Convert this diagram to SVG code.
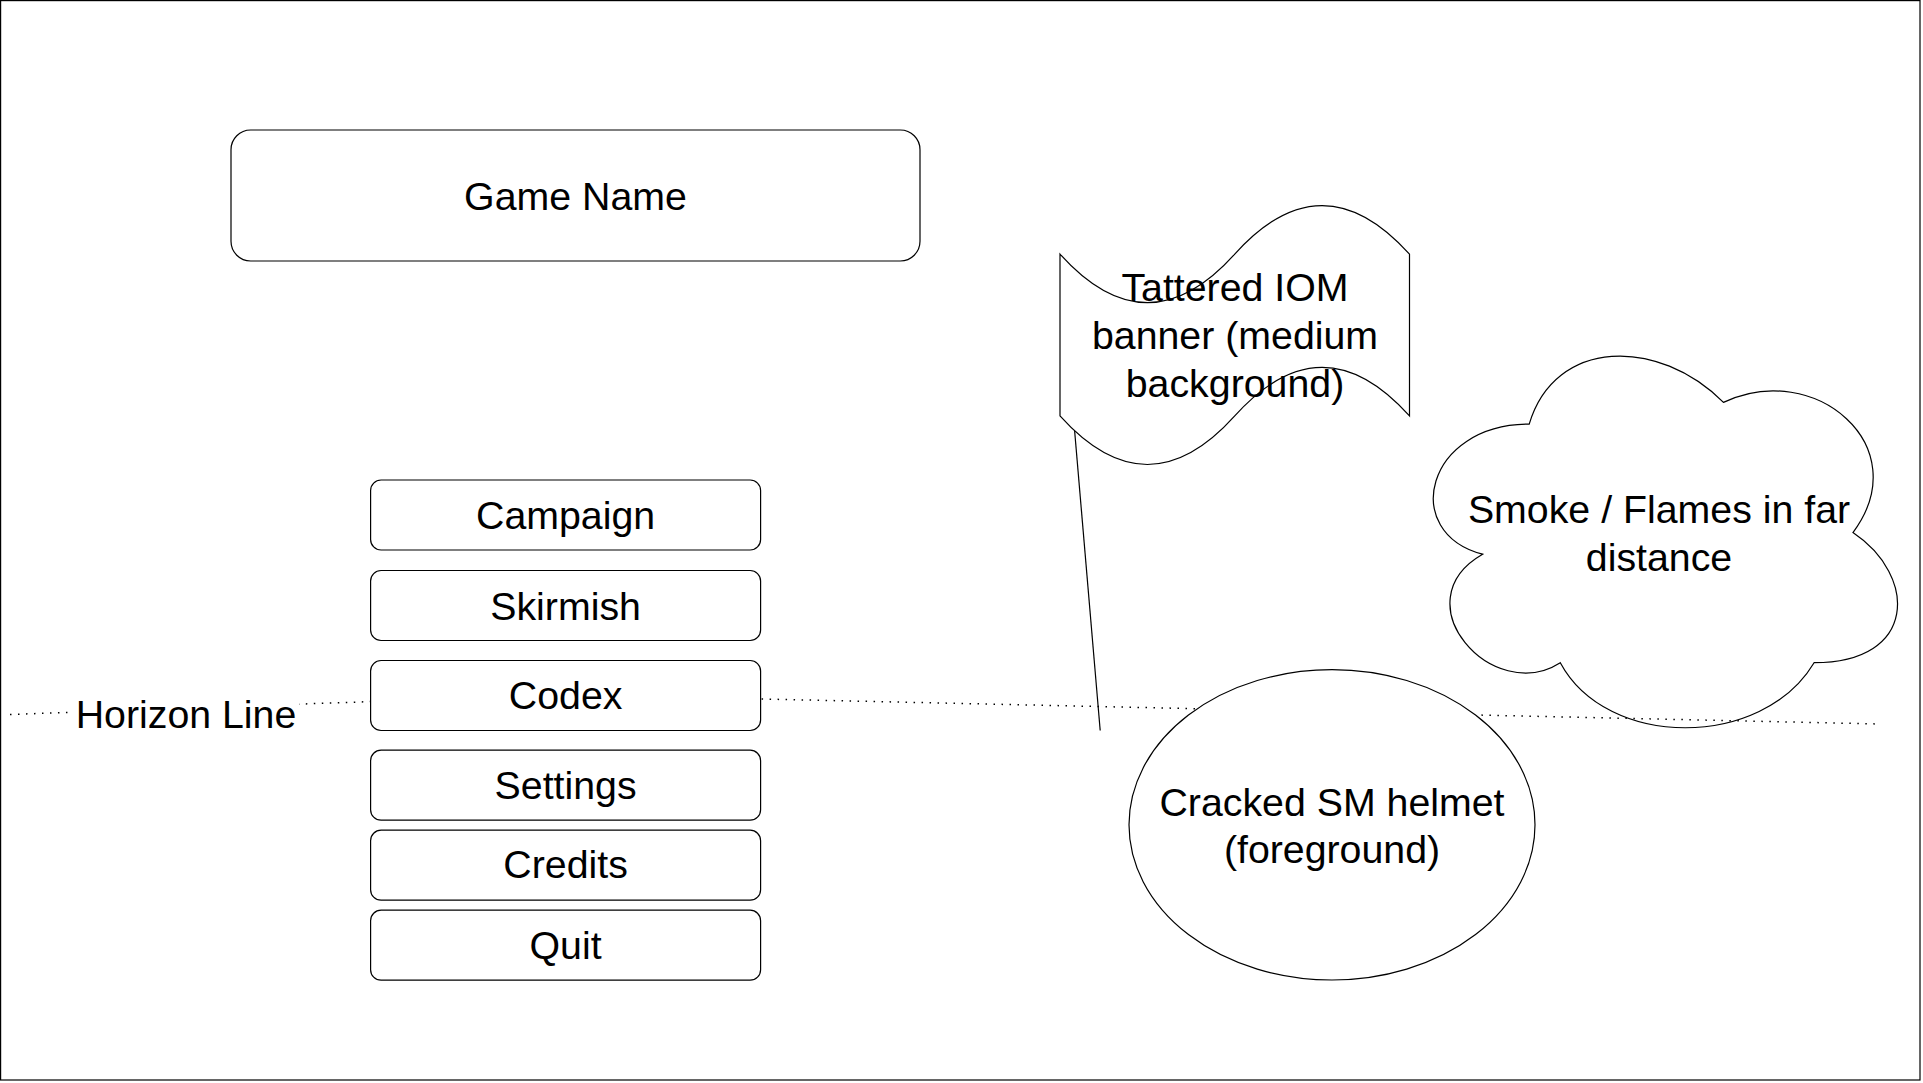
<svg xmlns="http://www.w3.org/2000/svg" width="1923" height="1083" viewBox="0 0 1923 1083">
  <style>
    .shape { fill: #ffffff; stroke: #000000; stroke-width: 1.2; }
    .lbl { font-family: "Liberation Sans", Arial, Helvetica, sans-serif; font-size: 39.3px; fill: #000000; text-anchor: middle; }
    .horizon { fill: none; stroke: #000000; stroke-width: 1.5; stroke-dasharray: 1.5 6.5; }
    .pole { fill: none; stroke: #000000; stroke-width: 1.2; }
  </style>
  <rect x="0" y="0" width="1923" height="1083" fill="#ffffff"/>
  <rect id="frame" x="0.6" y="0.6" width="1919.4" height="1079.4" fill="none" stroke="#000000" stroke-width="1.2"/>

  <g id="game-name">
    <rect class="shape" x="231" y="130" width="689" height="131" rx="19.7" ry="19.7"/>
    <text class="lbl" x="575.5" y="209.5">Game Name</text>
  </g>

  <g id="smoke-cloud">
    <path class="shape" d="M1529.2,424.1 C1425.6,424.1 1399.7,532.55 1482.6,554.2 C1399.7,601.9 1492.9,706 1560.3,662.7 C1606.9,749.4 1762.3,749.4 1814.1,662.7 C1917.7,662.7 1917.7,575.9 1852.95,532.55 C1917.7,445.8 1814.1,359.1 1723.45,402.4 C1658.7,337.4 1555.1,337.4 1529.2,424.1 Z"/>
    <text class="lbl" x="1659" y="523.3">Smoke / Flames in far</text>
    <text class="lbl" x="1659" y="570.7">distance</text>
  </g>

  <g id="connectors">
    <polyline id="horizon-line" class="horizon" points="10,714.5 565.6,694.6 1879,724"/>
    <rect x="70" y="697" width="229" height="40" fill="#ffffff"/>
    <text class="lbl" x="186" y="727.7">Horizon Line</text>
    <line id="banner-pole" class="pole" x1="1072" y1="400" x2="1100.2" y2="730.5"/>
  </g>

  <g id="btn-campaign">
    <rect class="shape" x="370.6" y="480" width="390" height="70" rx="10.5" ry="10.5"/>
    <text class="lbl" x="565.6" y="529">Campaign</text>
  </g>
  <g id="btn-skirmish">
    <rect class="shape" x="370.6" y="570.5" width="390" height="70" rx="10.5" ry="10.5"/>
    <text class="lbl" x="565.6" y="619.5">Skirmish</text>
  </g>
  <g id="btn-codex">
    <rect class="shape" x="370.6" y="660.5" width="390" height="70" rx="10.5" ry="10.5"/>
    <text class="lbl" x="565.6" y="709">Codex</text>
  </g>
  <g id="btn-settings">
    <rect class="shape" x="370.6" y="750.2" width="390" height="70" rx="10.5" ry="10.5"/>
    <text class="lbl" x="565.6" y="798.5">Settings</text>
  </g>
  <g id="btn-credits">
    <rect class="shape" x="370.6" y="830.2" width="390" height="70" rx="10.5" ry="10.5"/>
    <text class="lbl" x="565.6" y="878">Credits</text>
  </g>
  <g id="btn-quit">
    <rect class="shape" x="370.6" y="910.2" width="390" height="70" rx="10.5" ry="10.5"/>
    <text class="lbl" x="565.6" y="958.7">Quit</text>
  </g>

  <g id="iom-banner">
    <path class="shape" d="M1060,254.1 Q1147.4,351.3 1234.75,254.1 Q1322.1,157 1409.5,254.1 L1409.5,415.96 Q1322.1,318.85 1234.75,415.96 Q1147.4,513.06 1060,415.96 Z"/>
    <text class="lbl" x="1235" y="300.7">Tattered IOM</text>
    <text class="lbl" x="1235" y="349.3">banner (medium</text>
    <text class="lbl" x="1235" y="396.7">background)</text>
  </g>

  <g id="sm-helmet">
    <ellipse class="shape" cx="1332" cy="824.8" rx="203" ry="155.2"/>
    <text class="lbl" x="1332" y="815.5">Cracked SM helmet</text>
    <text class="lbl" x="1332" y="862.5">(foreground)</text>
  </g>
</svg>
